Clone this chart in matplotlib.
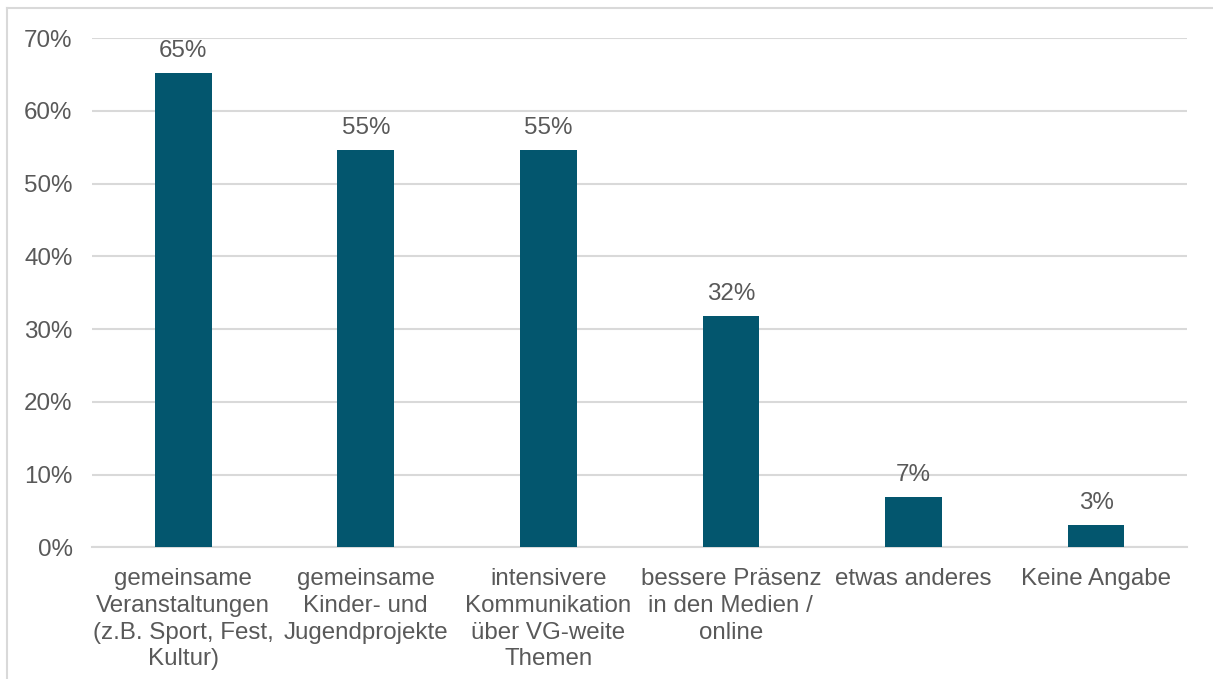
import matplotlib.pyplot as plt
from matplotlib.lines import Line2D

categories = [
    "gemeinsame\nVeranstaltungen\n(z.B. Sport, Fest,\nKultur)",
    "gemeinsame\nKinder- und\nJugendprojekte",
    "intensivere\nKommunikation\nüber VG-weite\nThemen",
    "bessere Präsenz\nin den Medien /\nonline",
    "etwas anderes",
    "Keine Angabe",
]
values = [65.2, 54.6, 54.6, 31.8, 6.9, 3.0]
value_labels = ["65%", "55%", "55%", "32%", "7%", "3%"]
yticks = [0, 10, 20, 30, 40, 50, 60, 70]


def main():
    plt.rcParams['font.family'] = ['Liberation Sans', 'DejaVu Sans']
    text_color = '#595959'
    grid_color = '#D9D9D9'
    fs = 17.4

    fig = plt.figure(figsize=(12.13, 6.79), dpi=100)
    ax = fig.add_axes([0.0758, 0.194, 0.903, 0.750])

    x = list(range(len(categories)))
    bars = ax.bar(x, values, width=0.31, color='#03566E', zorder=3)

    for b, lab in zip(bars, value_labels):
        ax.annotate(lab, (b.get_x() + b.get_width() / 2, b.get_height()),
                    xytext=(0, 8), textcoords='offset points',
                    ha='center', va='bottom', fontsize=fs, color=text_color)

    ax.set_xlim(-0.5, len(categories) - 0.5)
    ax.set_ylim(0, 70)
    ax.set_yticks(yticks)
    ax.set_yticklabels([f"{t}%" for t in yticks])
    ax.set_xticks(x)
    ax.set_xticklabels(categories, linespacing=1.28)
    ax.tick_params(axis='both', length=0, labelsize=fs, colors=text_color)
    ax.tick_params(axis='y', pad=14)
    ax.tick_params(axis='x', pad=15)

    ax.grid(axis='y', color=grid_color, linewidth=1.5, zorder=0)
    for s in ['top', 'right', 'left']:
        ax.spines[s].set_visible(False)
    ax.spines['bottom'].set_color(grid_color)
    ax.spines['bottom'].set_linewidth(1.5)

    # outer chart border (cropped)
    fig.add_artist(Line2D([7 / 1213, 7 / 1213], [0, 1 - 8 / 679],
                          transform=fig.transFigure, color=grid_color, lw=1.5))
    fig.add_artist(Line2D([7 / 1213, 1], [1 - 8 / 679, 1 - 8 / 679],
                          transform=fig.transFigure, color=grid_color, lw=1.5))

    fig.savefig("out.png", dpi=100)


if __name__ == "__main__":
    main()
